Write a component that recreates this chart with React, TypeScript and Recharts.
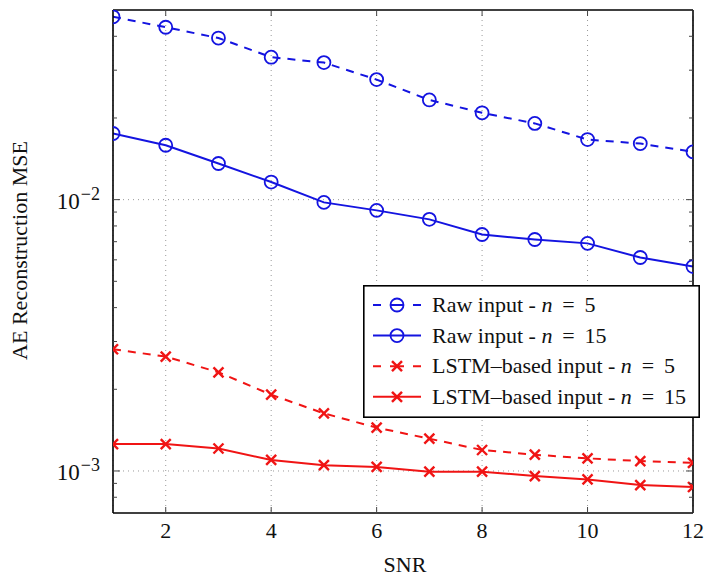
import React from "react"
import { LineChart, Line, XAxis, YAxis, CartesianGrid, ReferenceLine, Legend } from "recharts"

const snr = [1, 2, 3, 4, 5, 6, 7, 8, 9, 10, 11, 12]
const rawN5 = [0.0472, 0.0432, 0.0394, 0.0335, 0.032, 0.0277, 0.0233, 0.0209, 0.0191, 0.01665, 0.0161, 0.015]
const rawN15 = [0.01753, 0.01587, 0.01359, 0.01161, 0.00977, 0.00913, 0.00846, 0.00744, 0.00713, 0.0069, 0.00612, 0.00567]
const lstmN5 = [0.00281, 0.00264, 0.00231, 0.00191, 0.00163, 0.001445, 0.001315, 0.001195, 0.001148, 0.001113, 0.001088, 0.001072]
const lstmN15 = [0.001256, 0.001256, 0.00121, 0.001098, 0.00105, 0.001035, 0.000994, 0.000994, 0.000958, 0.000931, 0.000887, 0.000873]

const xTicks = [2, 4, 6, 8, 10, 12]
const yMajor = [0.001, 0.01]
const yMinor = [0.0008, 0.0009, 0.002, 0.003, 0.004, 0.005, 0.006, 0.007, 0.008, 0.009, 0.02, 0.03, 0.04]
const yDomain = [0.0007, 0.05]

const BLUE = "#1414e0"
const RED = "#f01414"
const FONT = "'Liberation Serif', 'DejaVu Serif', serif"

const series = [
	{ key: "rawN5", name: "Raw input - ", n: "5", color: BLUE, dashed: true, marker: "circle" },
	{ key: "rawN15", name: "Raw input - ", n: "15", color: BLUE, dashed: false, marker: "circle" },
	{ key: "lstmN5", name: "LSTM–based input - ", n: "5", color: RED, dashed: true, marker: "cross" },
	{ key: "lstmN15", name: "LSTM–based input - ", n: "15", color: RED, dashed: false, marker: "cross" },
]

const data = snr.map((s, i) => ({
	snr: s,
	rawN5: rawN5[i],
	rawN15: rawN15[i],
	lstmN5: lstmN5[i],
	lstmN15: lstmN15[i],
}))

const Marker = ({ cx, cy, type, color }: { cx: number; cy: number; type: string; color: string }) =>
	type === "circle" ? (
		<circle cx={cx} cy={cy} r={6.5} fill="none" stroke={color} strokeWidth={1.8} />
	) : (
		<g stroke={color} strokeWidth={2.4}>
			<line x1={cx - 5} y1={cy - 5} x2={cx + 5} y2={cy + 5} />
			<line x1={cx - 5} y1={cy + 5} x2={cx + 5} y2={cy - 5} />
		</g>
	)

const isMajor = (v: number) => yMajor.includes(v)

const BottomTick = (props: any) => {
	const { x, y, payload } = props
	return (
		<g>
			<line x1={x} y1={y} x2={x} y2={y - 6} stroke="#444" strokeWidth={1} />
			<text x={x} y={y + 25} textAnchor="middle" fontFamily={FONT} fontSize={22} fill="#111">
				{payload.value}
			</text>
		</g>
	)
}

const TopTick = (props: any) => {
	const { x, y } = props
	return <line x1={x} y1={y} x2={x} y2={y + 6} stroke="#444" strokeWidth={1} />
}

const LeftTick = (props: any) => {
	const { x, y, payload } = props
	const major = isMajor(payload.value)
	const exp = Math.round(Math.log10(payload.value))
	return (
		<g>
			<line x1={x} y1={y} x2={x + (major ? 7 : 4)} y2={y} stroke="#444" strokeWidth={1} />
			{major && (
				<text x={x - 13} y={y + 9} textAnchor="end" fontFamily={FONT} fontSize={23} fill="#111">
					10
					<tspan dx={1} dy={-9} fontSize={18}>
						{"\u2212" + Math.abs(exp)}
					</tspan>
				</text>
			)}
		</g>
	)
}

const RightTick = (props: any) => {
	const { x, y, payload } = props
	const major = isMajor(payload.value)
	return <line x1={x} y1={y} x2={x - (major ? 7 : 4)} y2={y} stroke="#444" strokeWidth={1} />
}

const LegendBox = () => (
	<svg width={337} height={133} style={{ display: "block" }}>
		<rect x={0.8} y={0.8} width={335.4} height={131.4} fill="#fff" stroke="#000" strokeWidth={1.6} />
		{series.map((s, i) => {
			const cy = 20 + i * 30.6
			return (
				<g key={s.key}>
					<line
						x1={10}
						y1={cy}
						x2={58}
						y2={cy}
						stroke={s.color}
						strokeWidth={2}
						strokeDasharray={s.dashed ? "8 9 14 9 8" : undefined}
					/>
					<Marker cx={34} cy={cy} type={s.marker} color={s.color} />
					<text x={69} y={cy + 7} fontFamily={FONT} fontSize={22} fill="#111">
						{s.name}
						<tspan fontStyle="italic">n</tspan>
						{" \u2009=\u2009 " + s.n}
					</text>
				</g>
			)
		})}
	</svg>
)

const App: React.FC = () => (
	<div style={{ position: "absolute", left: 0, top: 0, background: "#fff" }}>
		<LineChart width={708} height={578} data={data} margin={{ top: 0, right: 0, bottom: 0, left: 0 }}>
			<CartesianGrid horizontal={false} stroke="#999" strokeDasharray="1 4" />
			<ReferenceLine y={0.01} stroke="#999" strokeDasharray="1 4" />
			<ReferenceLine y={0.001} stroke="#999" strokeDasharray="1 4" />
			<XAxis
				dataKey="snr"
				type="number"
				domain={[1, 12]}
				ticks={xTicks}
				interval={0}
				allowDataOverflow
				height={65}
				tickSize={0}
				tickMargin={0}
				tickLine={false}
				axisLine={{ stroke: "#000", strokeWidth: 1.6 }}
				tick={<BottomTick />}
				label={({ viewBox }: any) => (
					<text x={viewBox.x + viewBox.width / 2 + 2} y={572} textAnchor="middle" fontFamily={FONT} fontSize={22} fill="#111">
						SNR
					</text>
				)}
			/>
			<XAxis
				xAxisId="top"
				orientation="top"
				dataKey="snr"
				type="number"
				domain={[1, 12]}
				ticks={xTicks}
				interval={0}
				allowDataOverflow
				height={10}
				tickSize={0}
				tickMargin={0}
				tickLine={false}
				axisLine={{ stroke: "#000", strokeWidth: 1.6 }}
				tick={<TopTick />}
			/>
			<YAxis
				scale="log"
				type="number"
				domain={yDomain}
				ticks={[...yMinor, ...yMajor]}
				interval={0}
				allowDataOverflow
				width={113}
				tickSize={0}
				tickMargin={0}
				tickLine={false}
				axisLine={{ stroke: "#000", strokeWidth: 1.6 }}
				tick={<LeftTick />}
				label={({ viewBox }: any) => (
					<text
						x={27}
						y={viewBox.y + viewBox.height / 2 - 11}
						transform={`rotate(-90, 27, ${viewBox.y + viewBox.height / 2 - 11})`}
						textAnchor="middle"
						fontFamily={FONT}
						fontSize={22}
						fill="#111"
					>
						AE Reconstruction MSE
					</text>
				)}
			/>
			<YAxis
				yAxisId="right"
				orientation="right"
				scale="log"
				type="number"
				domain={yDomain}
				ticks={[...yMinor, ...yMajor]}
				interval={0}
				allowDataOverflow
				width={15}
				tickSize={0}
				tickMargin={0}
				tickLine={false}
				axisLine={{ stroke: "#000", strokeWidth: 1.6 }}
				tick={<RightTick />}
			/>
			{series.map((s) => (
				<Line
					key={s.key}
					dataKey={s.key}
					type="linear"
					stroke={s.color}
					strokeWidth={2}
					strokeDasharray={s.dashed ? "8 7" : undefined}
					isAnimationActive={false}
					dot={(p: any) => <Marker key={`${s.key}-${p.index}`} cx={p.cx} cy={p.cy} type={s.marker} color={s.color} />}
					activeDot={false}
				/>
			))}
			<Legend
				layout="vertical"
				align="center"
				verticalAlign="middle"
				wrapperStyle={{ left: 363, top: 285, width: 337, height: 133 }}
				content={() => <LegendBox />}
			/>
		</LineChart>
	</div>
)

export default App
